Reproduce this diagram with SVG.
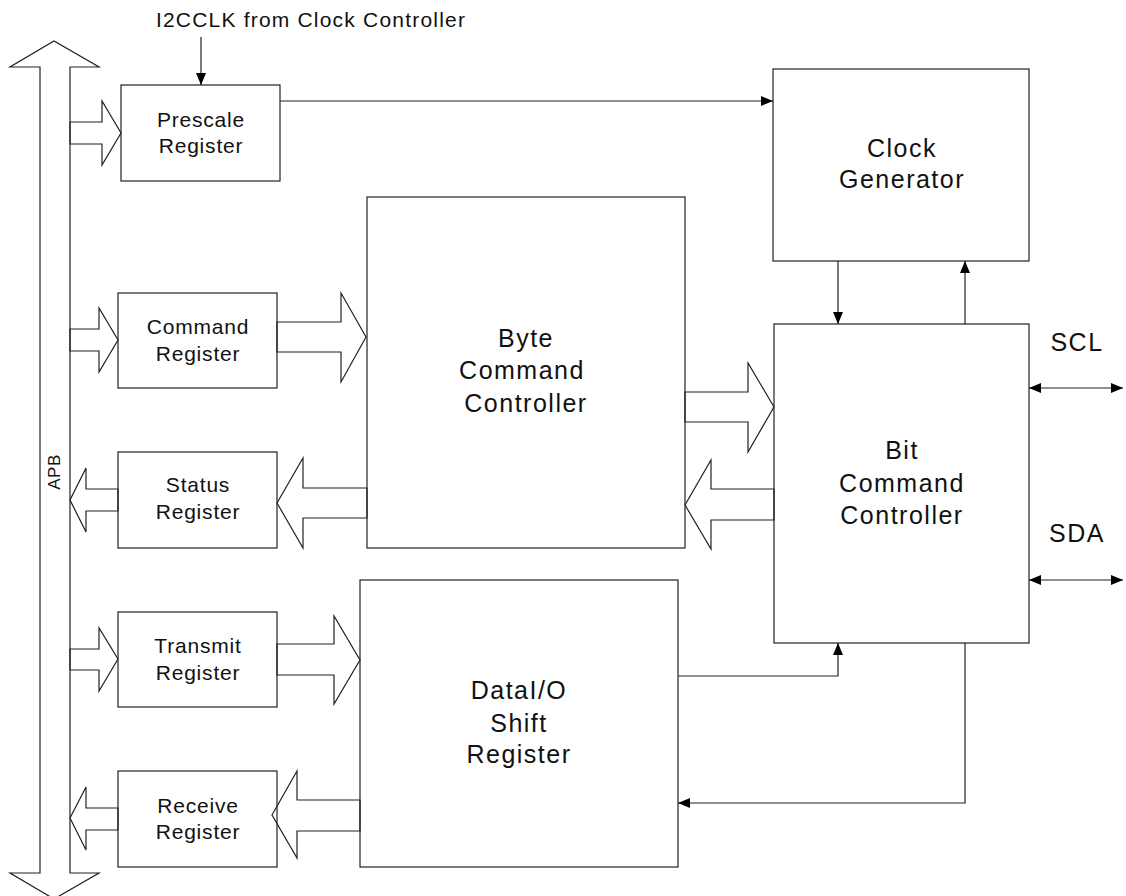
<svg xmlns="http://www.w3.org/2000/svg" width="1126" height="896" viewBox="0 0 1126 896">
<style>
.box{fill:#fff;stroke:#222;stroke-width:1.2}
.fat{fill:none;stroke:#222;stroke-width:1.2;stroke-linejoin:miter}
.ln{fill:none;stroke:#222;stroke-width:1.2}
.t{font-family:"Liberation Sans",Arial,sans-serif;fill:#111;text-anchor:middle}
.s{font-size:21px;letter-spacing:0.8px}
.b{font-size:25px;letter-spacing:1.5px}
</style>
<defs>
<marker id="ah" viewBox="0 0 12 10" refX="12" refY="5" markerWidth="12" markerHeight="10" markerUnits="userSpaceOnUse" orient="auto-start-reverse">
<path d="M0,0 L12,5 L0,10 Z" fill="#000"/>
</marker>
</defs>
<rect width="1126" height="896" fill="#fff"/>
<g id="apb">
<polygon class="fat" points="40,67 10,67 54,41 99,67 70,67 70,873 99,873 54,899 10,873 40,873"/>
<text class="t" style="font-size:17px;letter-spacing:0.5px" transform="translate(60,472) rotate(-90)">APB</text>
</g>
<g id="i2cclk-label">
<text class="t s" style="letter-spacing:1.2px" x="311" y="27">I2CCLK from Clock Controller</text>
</g>
<g id="prescale">
<rect class="box" x="121" y="85" width="159" height="96"/>
<text class="t s" x="201" y="127">Prescale</text>
<text class="t s" x="201" y="153">Register</text>
</g>
<g id="clockgen">
<rect class="box" x="773" y="69" width="256" height="192"/>
<text class="t b" x="902" y="157">Clock</text>
<text class="t b" x="902" y="188">Generator</text>
</g>
<g id="command">
<rect class="box" x="118" y="293" width="159" height="95"/>
<text class="t s" x="198" y="334">Command</text>
<text class="t s" x="198" y="361">Register</text>
</g>
<g id="byte">
<rect class="box" x="367" y="197" width="318" height="351"/>
<text class="t b" x="526" y="347">Byte</text>
<text class="t b" x="522" y="379">Command</text>
<text class="t b" x="526" y="412">Controller</text>
</g>
<g id="status">
<rect class="box" x="118" y="452" width="159" height="96"/>
<text class="t s" x="198" y="492">Status</text>
<text class="t s" x="198" y="519">Register</text>
</g>
<g id="bit">
<rect class="box" x="774" y="324" width="255" height="319"/>
<text class="t b" x="902" y="459">Bit</text>
<text class="t b" x="902" y="492">Command</text>
<text class="t b" x="902" y="524">Controller</text>
</g>
<g id="transmit">
<rect class="box" x="118" y="612" width="159" height="95"/>
<text class="t s" x="198" y="653">Transmit</text>
<text class="t s" x="198" y="680">Register</text>
</g>
<g id="data">
<rect class="box" x="360" y="580" width="318" height="287"/>
<text class="t b" x="519" y="699">DataI/O</text>
<text class="t b" x="519" y="732">Shift</text>
<text class="t b" x="519" y="763">Register</text>
</g>
<g id="receive">
<rect class="box" x="118" y="771" width="159" height="96"/>
<text class="t s" x="198" y="813">Receive</text>
<text class="t s" x="198" y="839">Register</text>
</g>
<g id="scl-sda">
<text class="t b" x="1077" y="351">SCL</text>
<text class="t b" x="1077" y="542">SDA</text>
</g>
<g id="connectors">
<line class="ln" x1="201" y1="37" x2="201" y2="85" marker-end="url(#ah)"/>
<line class="ln" x1="280" y1="101" x2="773" y2="101" marker-end="url(#ah)"/>
<line class="ln" x1="838" y1="261" x2="838" y2="324" marker-end="url(#ah)"/>
<line class="ln" x1="965" y1="324" x2="965" y2="261" marker-end="url(#ah)"/>
<polyline class="ln" points="678,676 838,676 838,643" marker-end="url(#ah)"/>
<polyline class="ln" points="965,643 965,803 678,803" marker-end="url(#ah)"/>
<line class="ln" x1="1029" y1="388" x2="1123" y2="388" marker-start="url(#ah)" marker-end="url(#ah)"/>
<line class="ln" x1="1029" y1="580" x2="1123" y2="580" marker-start="url(#ah)" marker-end="url(#ah)"/>
<polygon class="fat" points="70,122 102,122 102,101 121,133 102,165 102,144 70,144"/>
<polygon class="fat" points="70,329 99,329 99,308 118,340 99,372 99,351 70,351"/>
<polygon class="fat" points="277,322 341,322 341,293 366,337 341,382 341,352 277,352"/>
<polygon class="fat" points="118,489 86,489 86,468 70,500 86,532 86,511 118,511"/>
<polygon class="fat" points="367,488 303,488 303,458 277,503 303,548 303,518 367,518"/>
<polygon class="fat" points="70,649 99,649 99,628 118,659 99,691 99,670 70,670"/>
<polygon class="fat" points="277,644 334,644 334,616 360,660 334,704 334,675 277,675"/>
<polygon class="fat" points="118,808 86,808 86,787 70,818 86,850 86,830 118,830"/>
<polygon class="fat" points="360,800 297,800 297,771 272,815 297,858 297,831 360,831"/>
<polygon class="fat" points="685,392 748,392 748,363 774,407 748,452 748,422 685,422"/>
<polygon class="fat" points="774,489 711,489 711,460 685,505 711,549 711,520 774,520"/>
</g>
</svg>
